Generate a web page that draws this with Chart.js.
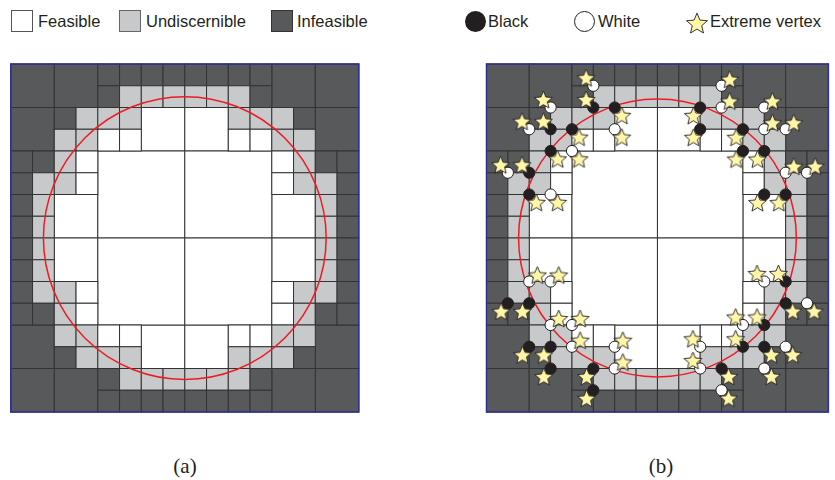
<!DOCTYPE html>
<html>
<head>
<meta charset="utf-8">
<script src="https://cdn.jsdelivr.net/npm/chart.js@4.4.0/dist/chart.umd.min.js"></script>
<style>
  body { margin: 0; width: 835px; height: 480px; background: #fff; position: relative; overflow: hidden;
         font-family: "Liberation Sans", Arial, sans-serif; color: #231f20; }
  canvas { position: absolute; }
  .sym { position: absolute; box-sizing: border-box; }
  .txt { position: absolute; top: 9.5px; height: 22px; line-height: 22px; font-size: 16.5px; white-space: nowrap; }
  .caption { position: absolute; top: 454px; width: 60px; text-align: center; line-height: 24px;
             font-family: "Liberation Serif", "Times New Roman", serif; font-size: 21px; }
</style>
</head>
<body>

<!-- legend (a) -->
<div class="sym" style="left:11px;top:9.5px;width:21.5px;height:22px;background:#fff;border:1px solid #555"></div>
<div class="txt" style="left:38px">Feasible</div>
<div class="sym" style="left:119px;top:9.5px;width:21.5px;height:22px;background:#c8c9cb;border:1px solid #666"></div>
<div class="txt" style="left:146px">Undiscernible</div>
<div class="sym" style="left:271px;top:9.5px;width:21.5px;height:22px;background:#58595b;border:1px solid #333"></div>
<div class="txt" style="left:297px">Infeasible</div>

<!-- legend (b) -->
<div class="sym" style="left:465px;top:11px;width:21px;height:21px;border-radius:50%;background:#231f20"></div>
<div class="txt" style="left:488px">Black</div>
<div class="sym" style="left:574px;top:11px;width:21px;height:21px;border-radius:50%;background:#fff;border:1px solid #231f20"></div>
<div class="txt" style="left:598px">White</div>
<div id="legendStar" class="sym" style="left:684px;top:10px"></div>
<div class="txt" style="left:710px">Extreme vertex</div>

<canvas id="panelA" width="370" height="370" style="left:0;top:54px"></canvas>
<canvas id="panelB" width="359" height="370" style="left:476px;top:54px"></canvas>

<div class="caption" style="left:155px">(a)</div>
<div class="caption" style="left:631px">(b)</div>

<script>
// quadtree leaves on a 16 x 16 grid: [col, row, size, state]
// F = feasible, U = undiscernible, I = infeasible
const cellsTopLeft = [
  [0,0,2,'I'], [2,0,2,'I'], [0,2,2,'I'], [6,2,2,'F'], [2,6,2,'F'], [4,4,4,'F'],
  [4,0,1,'I'], [5,0,1,'I'], [6,0,1,'I'], [7,0,1,'I'],
  [4,1,1,'I'], [5,1,1,'U'], [6,1,1,'U'], [7,1,1,'U'],
  [2,2,1,'I'], [3,2,1,'U'], [4,2,1,'U'], [5,2,1,'U'],
  [2,3,1,'U'], [3,3,1,'U'], [4,3,1,'F'], [5,3,1,'F'],
  [0,4,1,'I'], [1,4,1,'I'], [2,4,1,'U'], [3,4,1,'F'],
  [0,5,1,'I'], [1,5,1,'U'], [2,5,1,'U'], [3,5,1,'F'],
  [0,6,1,'I'], [1,6,1,'U'], [0,7,1,'I'], [1,7,1,'U']
];
const cellsTopRight = [
  [12,0,2,'I'], [14,0,2,'I'], [14,2,2,'I'], [8,2,2,'F'], [12,6,2,'F'], [8,4,4,'F'],
  [8,0,1,'I'], [9,0,1,'I'], [10,0,1,'I'], [11,0,1,'I'],
  [8,1,1,'U'], [9,1,1,'U'], [10,1,1,'U'], [11,1,1,'I'],
  [10,2,1,'U'], [11,2,1,'U'], [12,2,1,'U'], [13,2,1,'I'],
  [10,3,1,'F'], [11,3,1,'F'], [12,3,1,'U'], [13,3,1,'U'],
  [12,4,1,'F'], [13,4,1,'U'], [14,4,1,'I'], [15,4,1,'I'],
  [12,5,1,'F'], [13,5,1,'U'], [14,5,1,'U'], [15,5,1,'I'],
  [14,6,1,'U'], [15,6,1,'I'], [14,7,1,'U'], [15,7,1,'I']
];
const cellsBottomLeft = [
  [0,14,2,'I'], [2,14,2,'I'], [0,12,2,'I'], [6,12,2,'F'], [2,8,2,'F'], [4,8,4,'F'],
  [0,8,1,'I'], [1,8,1,'U'], [0,9,1,'I'], [1,9,1,'U'],
  [0,10,1,'I'], [1,10,1,'U'], [2,10,1,'U'], [3,10,1,'F'],
  [0,11,1,'I'], [1,11,1,'I'], [2,11,1,'U'], [3,11,1,'F'],
  [2,12,1,'U'], [3,12,1,'U'], [4,12,1,'F'], [5,12,1,'F'],
  [2,13,1,'I'], [3,13,1,'U'], [4,13,1,'U'], [5,13,1,'U'],
  [4,14,1,'I'], [5,14,1,'U'], [6,14,1,'U'], [7,14,1,'U'],
  [4,15,1,'I'], [5,15,1,'I'], [6,15,1,'I'], [7,15,1,'I']
];
const cellsBottomRight = [
  [14,14,2,'I'], [12,14,2,'I'], [14,12,2,'I'], [8,12,2,'F'], [12,8,2,'F'], [8,8,4,'F'],
  [14,8,1,'U'], [15,8,1,'I'], [14,9,1,'U'], [15,9,1,'I'],
  [12,10,1,'F'], [13,10,1,'U'], [14,10,1,'U'], [15,10,1,'I'],
  [12,11,1,'F'], [13,11,1,'U'], [14,11,1,'I'], [15,11,1,'I'],
  [10,12,1,'F'], [11,12,1,'F'], [12,12,1,'U'], [13,12,1,'U'],
  [10,13,1,'U'], [11,13,1,'U'], [12,13,1,'U'], [13,13,1,'I'],
  [8,14,1,'U'], [9,14,1,'U'], [10,14,1,'U'], [11,14,1,'I'],
  [8,15,1,'I'], [9,15,1,'I'], [10,15,1,'I'], [11,15,1,'I']
];

// constraint boundary: circle in grid units
const circleCenter = [8, 8];
const circleRadius = 6.5;

// grid vertices of undiscernible cells: [x, y, side the extreme-vertex star sits on]
const blackVertices = [
  [5,2,'ul'], [6,2,'dr'], [3,3,'ul'], [4,3,'dr'], [3,4,'dr'], [2,5,'ul'], [2,6,'dr'],
  [10,2,'dl'], [10,3,'dl'], [12,3,'dl'], [12,4,'dl'], [13,4,'dl'], [13,6,'dl'], [14,6,'dl'],
  [1,11,'dl'], [2,11,'dl'], [2,13,'dl'], [3,13,'dl'], [3,14,'dl'], [5,14,'dl'], [5,15,'dl'],
  [14,10,'ul'], [14,11,'dr'], [13,12,'ul'], [12,13,'ul'], [13,13,'dr'], [11,14,'dr']
];
const whiteVertices = [
  [5,1,'ul'], [3,2,'ul'], [2,3,'ul'], [6,3,'dr'], [4,4,'dr'], [1,5,'ul'], [3,6,'dr'],
  [11,1,'ur'], [11,2,'ur'], [13,2,'ur'], [13,3,'ur'], [14,3,'ur'], [14,5,'ur'], [15,5,'ur'],
  [2,10,'ur'], [3,10,'ur'], [3,12,'ur'], [4,12,'ur'], [4,13,'ur'], [6,13,'ur'], [6,14,'ur'],
  [13,10,'ul'], [15,11,'dr'], [12,12,'ul'], [10,13,'ul'], [14,13,'dr'], [10,14,'ul'], [13,14,'dr'], [11,15,'dr']
];

const cells = [...cellsTopLeft, ...cellsTopRight, ...cellsBottomLeft, ...cellsBottomRight];

const fills = { F: '#ffffff', U: '#c8c9cb', I: '#58595b' };
const starShift = { ul: [-0.34, -0.37], ur: [0.38, -0.3], dl: [-0.32, 0.37], dr: [0.33, 0.36] };

function starImage(r) {
  const size = Math.ceil(r * 2 + 4);
  const c = document.createElement('canvas');
  c.width = size;
  c.height = size;
  const ctx = c.getContext('2d');
  ctx.translate(size / 2, size / 2 + r * 0.1);
  ctx.beginPath();
  for (let i = 0; i < 10; i++) {
    const rad = i % 2 ? r * 0.45 : r;
    const a = -Math.PI / 2 + i * Math.PI / 5;
    ctx.lineTo(Math.cos(a) * rad, Math.sin(a) * rad);
  }
  ctx.closePath();
  ctx.fillStyle = '#fff6a6';
  ctx.fill();
  ctx.lineWidth = 0.9;
  ctx.strokeStyle = '#231f20';
  ctx.stroke();
  return c;
}

document.getElementById('legendStar').appendChild(starImage(11));

// cells, boundary circle and frame go under the datasets
const quadtreePlugin = {
  id: 'quadtree',
  beforeDatasetsDraw(chart) {
    const { ctx, chartArea: area, scales: { x, y } } = chart;
    ctx.save();
    ctx.lineWidth = 1;
    ctx.strokeStyle = '#333333';
    cells.forEach(([c, r, s, state]) => {
      const x0 = x.getPixelForValue(c), x1 = x.getPixelForValue(c + s);
      const y0 = y.getPixelForValue(r), y1 = y.getPixelForValue(r + s);
      ctx.fillStyle = fills[state];
      ctx.fillRect(x0, y0, x1 - x0, y1 - y0);
      ctx.strokeRect(x0, y0, x1 - x0, y1 - y0);
    });

    const cx = x.getPixelForValue(circleCenter[0]);
    const cy = y.getPixelForValue(circleCenter[1]);
    const rad = x.getPixelForValue(circleCenter[0] + circleRadius) - cx;
    ctx.beginPath();
    ctx.arc(cx, cy, rad, 0, Math.PI * 2);
    ctx.lineWidth = 1.5;
    ctx.strokeStyle = '#ed1c24';
    ctx.stroke();

    ctx.lineWidth = 1.5;
    ctx.strokeStyle = '#2e3192';
    ctx.strokeRect(area.left, area.top, area.right - area.left, area.bottom - area.top);
    ctx.restore();
  }
};

function quadChart(id, padding, datasets) {
  return new Chart(document.getElementById(id), {
    type: 'scatter',
    data: { datasets },
    options: {
      responsive: false,
      animation: false,
      events: [],
      layout: { padding },
      scales: {
        x: { type: 'linear', min: 0, max: 16, display: false },
        y: { type: 'linear', min: 0, max: 16, reverse: true, display: false }
      },
      plugins: { legend: { display: false }, tooltip: { enabled: false } }
    },
    plugins: [quadtreePlugin]
  });
}

const toPoint = v => ({ x: v[0], y: v[1] });
const toStar = v => ({ x: v[0] + starShift[v[2]][0], y: v[1] + starShift[v[2]][1] });
const star = starImage(9.4);

quadChart('panelA', { left: 10.8, top: 10, right: 11.2, bottom: 12 }, []);

quadChart('panelB', { left: 10.5, top: 10, right: 0.5, bottom: 12 }, [
  {
    label: 'Extreme vertex',
    data: [...blackVertices, ...whiteVertices].map(toStar),
    pointStyle: star,
    order: 0
  },
  {
    label: 'Black',
    data: blackVertices.map(toPoint),
    pointRadius: 5.6,
    backgroundColor: '#231f20',
    borderColor: '#231f20',
    borderWidth: 1,
    order: 1
  },
  {
    label: 'White',
    data: whiteVertices.map(toPoint),
    pointRadius: 5.6,
    backgroundColor: '#ffffff',
    borderColor: '#231f20',
    borderWidth: 1,
    order: 2
  }
]);
</script>
</body>
</html>
